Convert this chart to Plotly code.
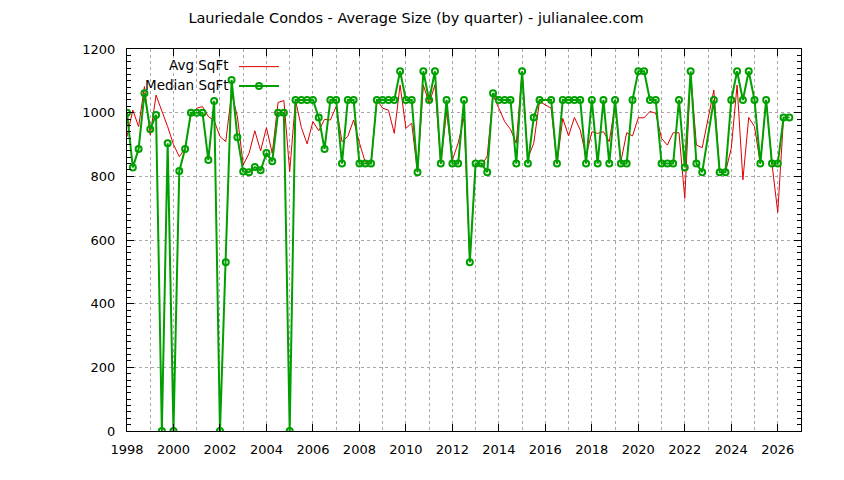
import plotly.graph_objects as go

# quarterly data, 1998 Q1 .. 2026 Q3 (None = no sales that quarter)
first_year = 1998
n_quarters = 115

avg_sqft = [
    925, 1008, 956, 1082,    # 1998
    930, 1055, 1005, 956,    # 1999
    900, 862, 888, 993,      # 2000
    1014, 1019, 988, 975,    # 2001
    925, 909, 1061, 988,     # 2002
    836, 872, 943, 880,      # 2003
    953, 872, 1032, 1038,    # 2004
    815, 1040, 954, 902,     # 2005
    972, 943, 979, 977,      # 2006
    1019, 909, 925, 977,     # 2007
    905, 845, 840, 1040,     # 2008
    1014, 1008, 935, 1087,   # 2009
    951, 967, 813, 1087,     # 2010
    1029, 1087, 840, 1003,   # 2011
    851, 905, 985, 530,      # 2012
    836, 832, 864, 1055,     # 2013
    1014, 972, 948, 904,     # 2014
    1130, 857, 904, 1035,    # 2015
    None, 1014, 840, 982,    # 2016
    927, 985, 946, 862,      # 2017
    940, 935, 940, 909,      # 2018
    1024, 846, 937, 927,     # 2019
    984, 984, 1004, 998,     # 2020
    919, 898, 937, 937,      # 2021
    731, 1125, 898, 890,     # 2022
    None, 1071, 813, 813,    # 2023
    888, 1087, 789, 985,     # 2024
    956, 840, 1040, 840,     # 2025
    687, 985, 985,           # 2026
]

median_sqft = [
    1000, 828, 886, 1061,    # 1998
    948, 993, 0, 904,        # 1999
    0, 817, 886, 1000,       # 2000
    1000, 1000, 851, 1037,   # 2001
    0, 530, 1103, 923,       # 2002
    815, 813, 829, 819,      # 2003
    873, 847, 1000, 1000,    # 2004
    0, 1040, 1040, 1040,     # 2005
    1040, 985, 886, 1040,    # 2006
    1040, 840, 1040, 1040,   # 2007
    840, 840, 840, 1040,     # 2008
    1040, 1040, 1040, 1130,  # 2009
    1040, 1040, 813, 1130,   # 2010
    1040, 1130, 840, 1040,   # 2011
    840, 840, 1040, 530,     # 2012
    840, 840, 813, 1061,     # 2013
    1040, 1040, 1040, 840,   # 2014
    1130, 840, 985, 1040,    # 2015
    None, 1040, 840, 1040,   # 2016
    1040, 1040, 1040, 840,   # 2017
    1040, 840, 1040, 840,    # 2018
    1040, 840, 840, 1040,    # 2019
    1130, 1130, 1040, 1040,  # 2020
    840, 840, 840, 1040,     # 2021
    828, 1130, 840, 813,     # 2022
    None, 1040, 813, 813,    # 2023
    1040, 1130, 1040, 1130,  # 2024
    1040, 840, 1040, 840,    # 2025
    840, 985, 985,           # 2026
]

quarters = [first_year + i / 4 for i in range(n_quarters)]

title = "Lauriedale Condos - Average Size (by quarter) - julianalee.com"

grid_col = "#a8a8a8"

# the page body adds 8px, so margins are pulled in by that much
off = 8

fig = go.Figure()
fig.add_trace(go.Scatter(
    x=quarters, y=avg_sqft, name="", mode="lines", connectgaps=True,
    line=dict(color="#dd0000", width=1)))
fig.add_trace(go.Scatter(
    x=quarters, y=median_sqft, name="", mode="lines+markers", connectgaps=True,
    line=dict(color="#00a000", width=2),
    marker=dict(symbol="circle-open", size=6, color="#00a000",
                line=dict(width=2, color="#00a000"))))

# gnuplot-like key: text on the left, sample on the right
fig.add_annotation(text="Avg SqFt", xref="paper", yref="paper",
                   x=(231 - 127) / 674, y=(431 - 65) / 382,
                   xanchor="right", yanchor="middle", showarrow=False,
                   font=dict(size=13.5))
fig.add_annotation(text="Median SqFt", xref="paper", yref="paper",
                   x=(231 - 127) / 674, y=(431 - 85) / 382,
                   xanchor="right", yanchor="middle", showarrow=False,
                   font=dict(size=13.5))

fig.update_layout(
    width=844, height=480,
    margin=dict(l=127 - off, r=43 + off, t=49 - off, b=49 + off),
    plot_bgcolor="white", paper_bgcolor="white",
    font=dict(family="DejaVu Sans", size=13, color="black"),
    title=dict(text=title, x=(416 - off) / 844, xanchor="center",
               y=1 - (18 - off) / 480, yanchor="middle", font=dict(size=14.5)),
    showlegend=True,
    legend=dict(x=(234 - 127) / 674, xanchor="left",
                y=(431 - 52) / 382, yanchor="top",
                bgcolor="rgba(0,0,0,0)", tracegroupgap=0,
                itemwidth=40, font=dict(size=12.5)),
)

fig.update_xaxes(
    range=[1998, 2027], tick0=1998, dtick=2,
    ticks="inside", ticklen=7, tickcolor="black",
    showline=True, linecolor="black", linewidth=1, mirror="ticks",
    showgrid=True, gridcolor=grid_col, griddash="dot", gridwidth=1,
    minor=dict(dtick=1, showgrid=True, gridcolor=grid_col, griddash="dot"),
    zeroline=False, ticklabelstandoff=6, automargin=False,
)
fig.update_yaxes(
    range=[0, 1200], dtick=200,
    ticks="inside", ticklen=7, tickcolor="black",
    showline=True, linecolor="black", linewidth=1, mirror="ticks",
    showgrid=True, gridcolor=grid_col, griddash="dot", gridwidth=1,
    minor=dict(dtick=20, ticks="inside", ticklen=4, tickcolor="black",
               showgrid=False),
    zeroline=False, ticklabelstandoff=8, automargin=False,
)

fig.write_html("out.html")
